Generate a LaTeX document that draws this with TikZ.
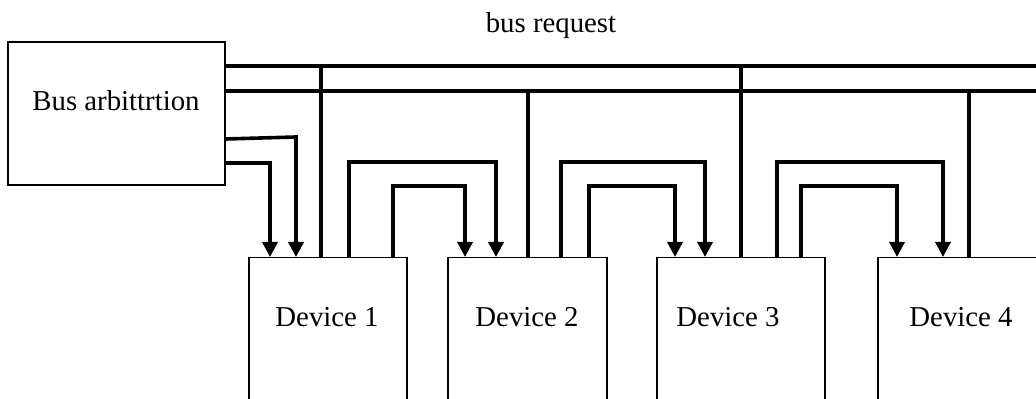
\documentclass[tikz,border=0pt]{standalone}
\usepackage{fontspec}
\setmainfont{Liberation Serif}
\usetikzlibrary{arrows.meta,calc}
\tikzset{
  box/.style={draw, line width=0.75pt, inner sep=0pt},
  devbox/.style={box, anchor=north, minimum height=100pt},
  txt/.style={font=\fontsize{14.4}{17}\selectfont, inner sep=0pt},
  wire/.style={line width=1.8pt},
  grant/.style={wire, -{Triangle[width=7.5pt,length=7.5pt]}},
}

\begin{document}
\begin{tikzpicture}[x=0.5pt,y=-0.5pt]
    \clip (0,0) rectangle (1036,399);

    % Arbiter and devices
    \node[box, minimum width=108.5pt, minimum height=71.5pt] (arb) at (116.5,113.5) {};
    \node[txt] (arbtxt) at (116,101) {Bus arbittrtion};
    \node[txt] (req) at (551,26) {bus request};

    \node[devbox, minimum width=79pt] (d1) at (328,257) {};
    \node[devbox, minimum width=79.5pt] (d2) at (527.5,257) {};
    \node[devbox, minimum width=84pt] (d3) at (741,257) {};
    \node[devbox, minimum width=83pt] (d4) at (961,257) {};
    \node[txt] (t1) at (327,317) {Device 1};
    \node[txt] (t2) at (527,317) {Device 2};
    \node[txt] (t3) at (728,317) {Device 3};
    \node[txt] (t4) at (961,317) {Device 4};

    % Bus lines
    \coordinate (busA) at (1040,66);
    \coordinate (busB) at (1040,91);
    \draw[wire] (arb.east |- busA) -- (busA);
    \draw[wire] (arb.east |- busB) -- (busB);

    % Request lines
    \draw[wire] (321,0 |- busA) -- (321,0 |- d1.north);
    \draw[wire] (528,0 |- busB) -- (528,0 |- d2.north);
    \draw[wire] (741,0 |- busA) -- (741,0 |- d3.north);
    \draw[wire] (969,0 |- busB) -- (969,0 |- d4.north);

    % Grant from arbiter
    \draw[grant] (arb.east |- 0,139) -- (296,137) -- (296,0 |- d1.north);
    \draw[grant] (arb.east |- 0,163) -- (270,163) -- (270,0 |- d1.north);

    % Daisy chain
    \foreach \src/\dst/\xo/\xi/\po/\pi in {d1/d2/349/393/496/465, d2/d3/561/589/705/675, d3/d4/777/801/943/897} {
        \draw[grant] (\xo,0 |- \src.north) -- (\xo,162) -- (\po,162) -- (\po,0 |- \dst.north);
        \draw[grant] (\xi,0 |- \src.north) -- (\xi,186) -- (\pi,186) -- (\pi,0 |- \dst.north);
    }
\end{tikzpicture}
\end{document}
